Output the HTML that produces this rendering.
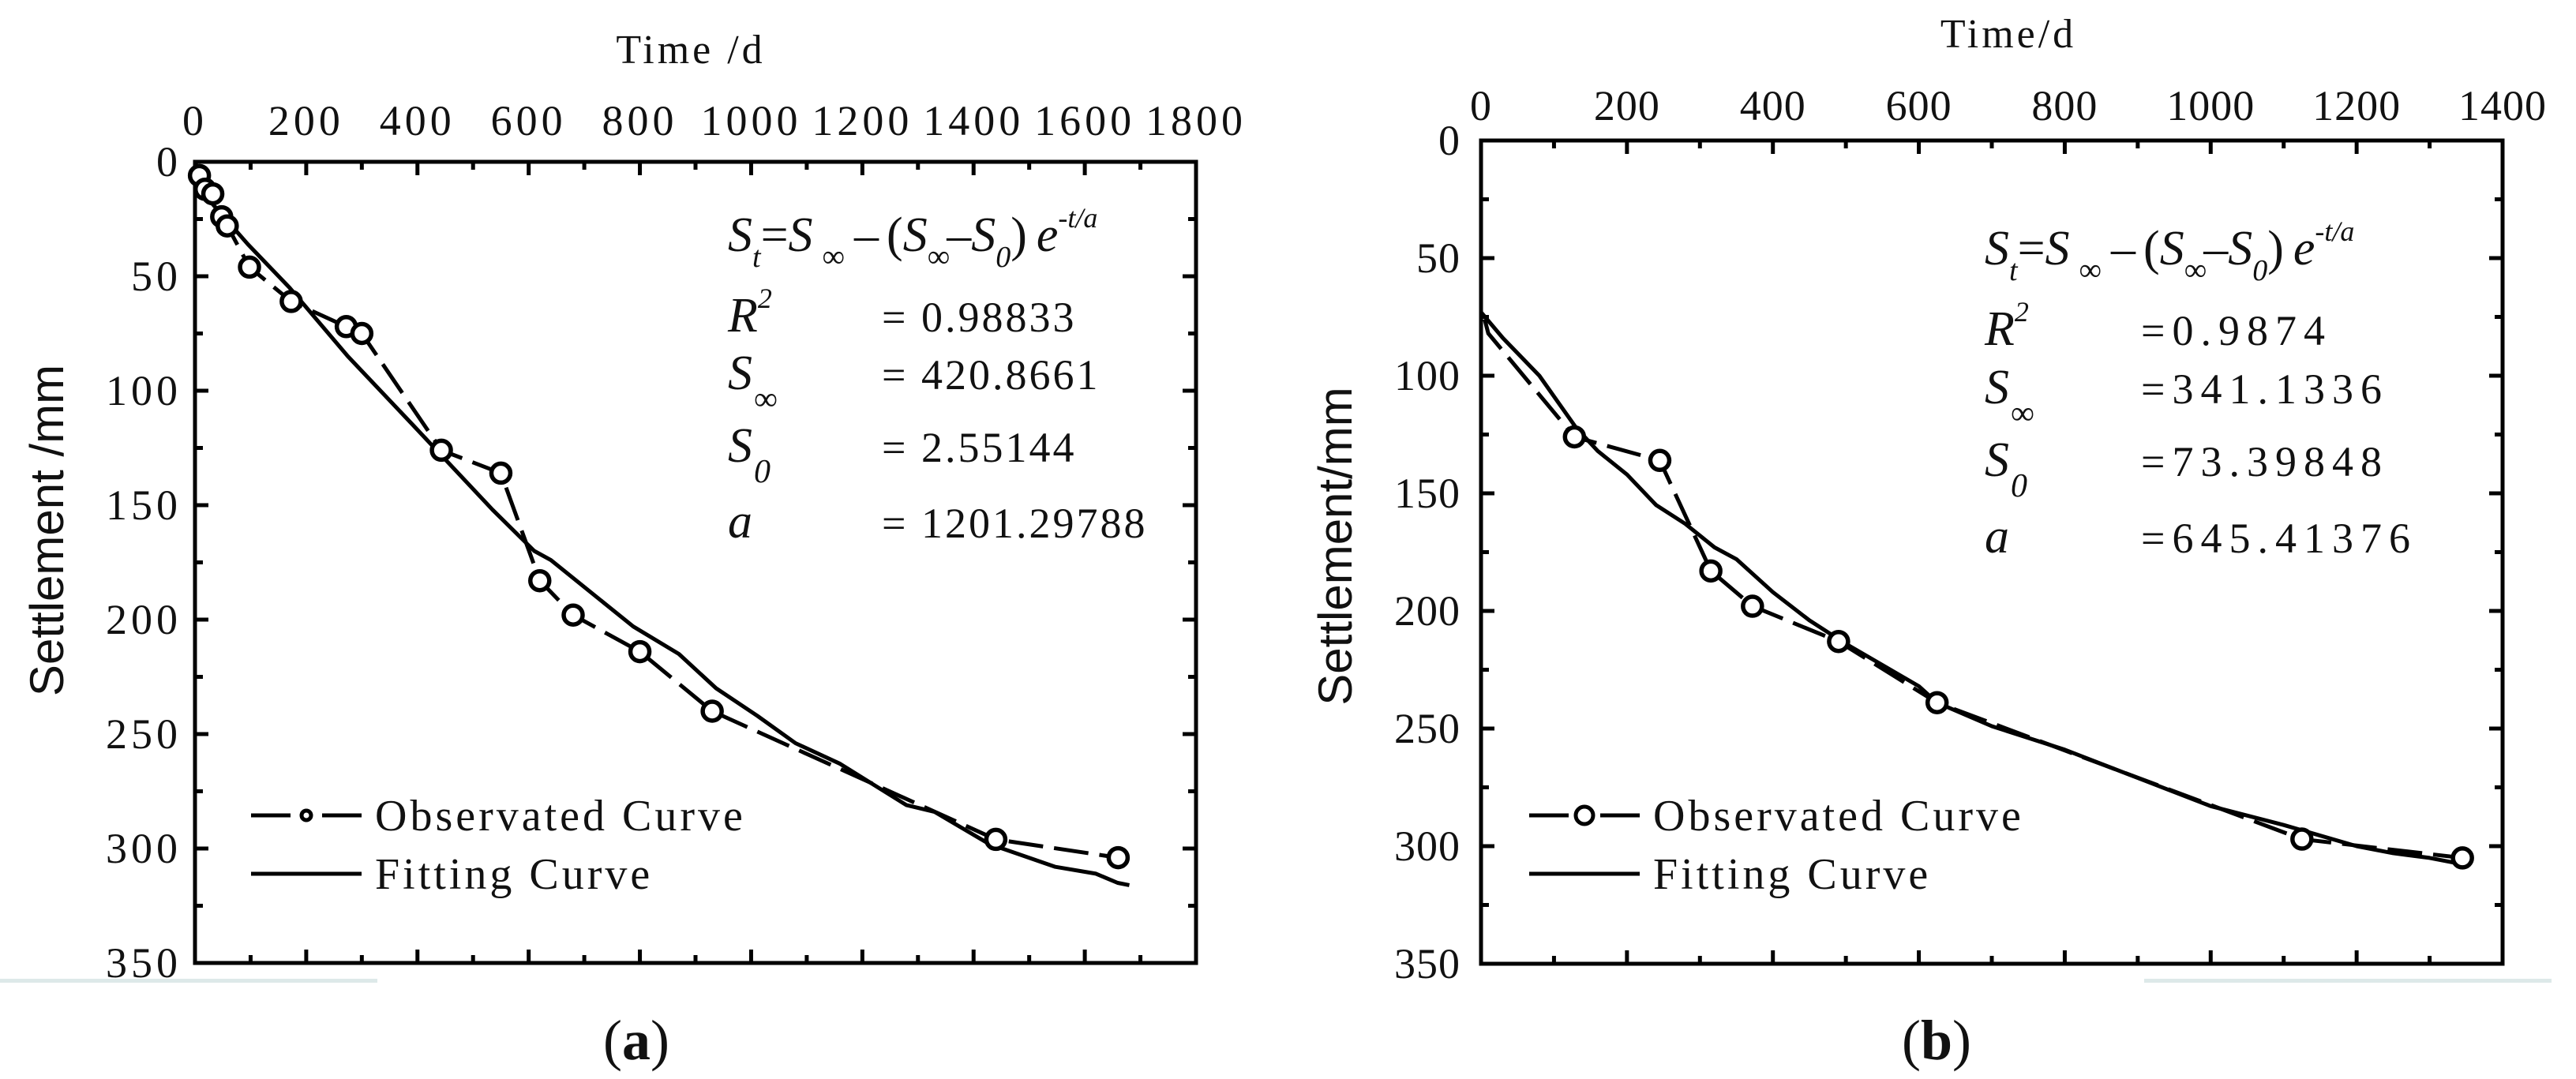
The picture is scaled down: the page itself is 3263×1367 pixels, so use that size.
<!DOCTYPE html>
<html><head><meta charset="utf-8"><style>
html,body{margin:0;padding:0;background:#fff;}
svg{display:block;}
text{font-family:"Liberation Serif",serif;fill:#111;}
</style></head><body>
<svg id="fig" width="3263" height="1367" viewBox="0 0 3263 1367" xmlns="http://www.w3.org/2000/svg">
<rect x="0" y="1240" width="478" height="5" fill="#dde9e9"/>
<rect x="2716" y="1240" width="516" height="5" fill="#dde9e9"/>
</svg>
<script>
// Panel (a) data
const aObsT = [8, 18, 32, 48, 58, 98, 173, 272, 300, 443, 550, 620, 680, 800, 930, 1440, 1660];
const aObsS = [6, 12, 14, 24, 28, 46, 61, 72, 75, 126, 136, 183, 198, 214, 240, 296, 304];
const aFitT = [0, 30, 95, 170, 275, 392, 535, 610, 640, 788, 870, 937, 1011, 1080, 1160, 1279, 1330, 1428, 1547, 1620, 1659, 1680];
const aFitS = [0, 18, 36, 55, 85, 115, 152, 170, 174, 203, 215, 230, 242, 254, 263, 281, 284, 298, 308, 311, 315, 316];
const aXTicks = [0, 200, 400, 600, 800, 1000, 1200, 1400, 1600, 1800];
const aYTicks = [0, 50, 100, 150, 200, 250, 300, 350];
// Panel (b) data
const bObsT = [128, 245, 315, 372, 490, 625, 1125, 1345];
const bObsS = [126, 136, 183, 198, 213, 239, 297, 305];
const bObsStartT = [5, 10];
const bObsStartS = [76, 82];
const bFitT = [0, 30, 80, 130, 160, 200, 240, 280, 320, 350, 400, 450, 500, 550, 600, 625, 700, 800, 850, 900, 1000, 1100, 1200, 1250, 1300, 1350];
const bFitS = [73, 84, 100, 122, 132, 142, 155, 163, 173, 178, 192, 204, 214, 223, 232, 239, 249, 259, 265, 271, 283, 291, 300, 303, 305, 308];
const bXTicks = [0, 200, 400, 600, 800, 1000, 1200, 1400];
const bYTicks = [0, 50, 100, 150, 200, 250, 300, 350];

const NS = "http://www.w3.org/2000/svg";
const svg = document.getElementById('fig');
function mk(tag, attrs, parent) {
  const e = document.createElementNS(NS, tag);
  for (const k in attrs) e.setAttribute(k, attrs[k]);
  (parent || svg).appendChild(e);
  return e;
}

function panel(p) {
  const g = mk('g', {});
  
  
  const sx = v => p.x0 + (v - p.xmin) / (p.xmax - p.xmin) * (p.x1 - p.x0);
  const sy = v => p.y0 + (v - p.ymin) / (p.ymax - p.ymin) * (p.y1 - p.y0);

  const xt = p.xTicks;
  for (let i = 0; i < xt.length; i++) {
    const X = sx(xt[i]);
    if (i > 0 && i < xt.length - 1) {
      const t1 = mk('line', {x1: X, x2: X, y1: p.y0, y2: p.y0 + 17, stroke: '#000', 'stroke-width': 5}, g);
      
      
      const t2 = mk('line', {x1: X, x2: X, y1: p.y1, y2: p.y1 - 17, stroke: '#000', 'stroke-width': 5}, g);
      
      
    }
    if (i < xt.length - 1) {
      const M = sx((xt[i] + xt[i + 1]) / 2);
      const m1 = mk('line', {x1: M, x2: M, y1: p.y0, y2: p.y0 + 10, stroke: '#000', 'stroke-width': 5}, g);
      
      
      const m2 = mk('line', {x1: M, x2: M, y1: p.y1, y2: p.y1 - 10, stroke: '#000', 'stroke-width': 5}, g);
      
      
    }
    const tl = mk('text', {x: X, y: p.xLabelY, 'text-anchor': 'middle', 'font-size': 54, 'letter-spacing': p.ls}, g);
    tl.textContent = xt[i];
    
    
  }
  const yt = p.yTicks;
  for (let i = 0; i < yt.length; i++) {
    const Y = sy(yt[i]);
    if (i > 0 && i < yt.length - 1) {
      const t1 = mk('line', {x1: p.x0, x2: p.x0 + 17, y1: Y, y2: Y, stroke: '#000', 'stroke-width': 5}, g);
      
      
      const t2 = mk('line', {x1: p.x1, x2: p.x1 - 17, y1: Y, y2: Y, stroke: '#000', 'stroke-width': 5}, g);
      
      
    }
    if (i < yt.length - 1) {
      const M = sy((yt[i] + yt[i + 1]) / 2);
      const m1 = mk('line', {x1: p.x0, x2: p.x0 + 10, y1: M, y2: M, stroke: '#000', 'stroke-width': 5}, g);
      
      
      const m2 = mk('line', {x1: p.x1, x2: p.x1 - 10, y1: M, y2: M, stroke: '#000', 'stroke-width': 5}, g);
      
      
    }
    const tl = mk('text', {x: p.yLabelX, y: Y + 18, 'text-anchor': 'end', 'font-size': 54, 'letter-spacing': p.ls}, g);
    tl.textContent = yt[i];
    
    
  }
  const fr = mk('rect', {x: p.x0, y: p.y0, width: p.x1 - p.x0, height: p.y1 - p.y0, fill: 'none', stroke: '#000', 'stroke-width': 5}, g);
  
  

  const xtit = mk('text', {x: p.xTitleX, y: p.xTitleY, 'text-anchor': 'middle', 'font-size': 52, 'letter-spacing': 4}, g);
  xtit.textContent = p.xTitle;
  
  
  const ytit = mk('text', {x: 0, y: 0, 'text-anchor': 'middle', 'font-size': 60, transform: `translate(${p.yTitleX},${p.yTitleY}) rotate(-90)`, style: 'font-family:"Liberation Sans",sans-serif'}, g);
  ytit.textContent = p.yTitle;
  
  

  let d = '';
  for (let i = 0; i < p.fitT.length; i++) d += (i ? 'L' : 'M') + sx(p.fitT[i]).toFixed(1) + ',' + sy(p.fitS[i]).toFixed(1);
  const fit = mk('path', {d: d, fill: 'none', stroke: '#000', 'stroke-width': 5, 'stroke-linejoin': 'round'}, g);
  
  

  const oT = (p.startT || []).concat(p.obsT), oS = (p.startS || []).concat(p.obsS);
  let d2 = '';
  for (let i = 0; i < oT.length; i++) d2 += (i ? 'L' : 'M') + sx(oT[i]).toFixed(1) + ',' + sy(oS[i]).toFixed(1);
  const obs = mk('path', {d: d2, fill: 'none', stroke: '#000', 'stroke-width': 5, 'stroke-dasharray': '44 14'}, g);
  
  
  for (let i = 0; i < p.obsT.length; i++) {
    const c = mk('circle', {cx: sx(p.obsT[i]), cy: sy(p.obsS[i]), r: 12, fill: '#fff', stroke: '#000', 'stroke-width': 5.5}, g);
    
    
  }

  const lg = mk('g', {}, g);
  
  
  const l1a = mk('line', {x1: p.legX, x2: p.legX + 50, y1: 1033, y2: 1033, stroke: '#000', 'stroke-width': 5}, lg);
  
  
  const l1b = mk('line', {x1: p.legX + 90, x2: p.legX + 140, y1: 1033, y2: 1033, stroke: '#000', 'stroke-width': 5}, lg);
  
  
  const lc = mk('circle', {cx: p.legX + 70, cy: 1033, r: p.legR, fill: '#fff', stroke: '#000', 'stroke-width': 5}, lg);
  
  
  const t1 = mk('text', {x: p.legX + 157, y: 1052, 'font-size': 56, 'letter-spacing': 4}, lg);
  t1.textContent = 'Observated Curve';
  
  
  const l2 = mk('line', {x1: p.legX, x2: p.legX + 140, y1: 1107, y2: 1107, stroke: '#000', 'stroke-width': 5}, lg);
  
  
  const t2 = mk('text', {x: p.legX + 157, y: 1126, 'font-size': 56, 'letter-spacing': 4}, lg);
  t2.textContent = 'Fitting Curve';
  
  

  const fb = mk('g', {}, g);
  
  
  const fx = p.fX, B = p.fBase;
  const eq = mk('text', {x: fx, y: B[0], 'font-size': 62, 'font-style': 'italic'}, fb);
  eq.innerHTML = '<tspan>S</tspan><tspan dy="20" font-size="38">t</tspan><tspan dy="-20" dx="0" font-style="normal">=</tspan><tspan>S</tspan><tspan dx="12" dy="20" font-size="40" font-style="normal">∞</tspan><tspan dy="-20" dx="12" font-style="normal">–</tspan><tspan dx="10" font-style="normal">(</tspan><tspan>S</tspan><tspan dy="20" font-size="40" font-style="normal">∞</tspan><tspan dy="-20" dx="-4" font-style="normal">–</tspan><tspan>S</tspan><tspan dy="20" font-size="38">0</tspan><tspan dy="-20" font-style="normal">)</tspan><tspan dx="12">e</tspan><tspan dy="-30" font-size="36">-t/a</tspan>';
  
  
  const names = [['R', '2', 'sup'], ['S', '∞', 'sub'], ['S', '0', 'sub'], ['a', '', '']];
  for (let i = 0; i < 4; i++) {
    const n = mk('text', {x: fx, y: B[i + 1], 'font-size': 62, 'font-style': 'italic'}, fb);
    const [a, s, k] = names[i];
    n.innerHTML = '<tspan>' + a + '</tspan>' + (k === 'sup' ? '<tspan dy="-30" font-size="36">' + s + '</tspan>' : k === 'sub' ? '<tspan dx="2" dy="26" font-size="42" font-style="' + (s === '∞' ? 'normal' : 'italic') + '">' + s + '</tspan>' : '');
    
    
    const v = mk('text', {x: p.eqX, y: B[i + 1], 'font-size': 54, 'letter-spacing': p.vls}, fb);
    v.textContent = p.vals[i];
    
    
  }
  const pl = mk('text', {x: p.lblX, y: 1342, 'text-anchor': 'middle', 'font-size': 72}, g);
  pl.innerHTML = '(<tspan font-weight="bold">' + p.id + '</tspan>)';
  
  
}

panel({id: 'a', x0: 247, x1: 1515, y0: 205, y1: 1220, xmin: 0, xmax: 1800, ymin: 0, ymax: 350,
  xTicks: aXTicks, yTicks: aYTicks, xLabelY: 171, yLabelX: 230, ls: 5,
  xTitle: 'Time  /d', xTitleX: 875, xTitleY: 80, yTitle: 'Settlement  /mm', yTitleX: 80, yTitleY: 672,
  fitT: aFitT, fitS: aFitS, obsT: aObsT, obsS: aObsS, legX: 318, legR: 6,
  fX: 922, fBase: [318, 420, 493, 585, 681], eqX: 1117, vals: ['=  0.98833', '=  420.8661', '=  2.55144', '=  1201.29788'], vls: 3, lblX: 806});

panel({id: 'b', x0: 1876, x1: 3170, y0: 178, y1: 1221, xmin: 0, xmax: 1400, ymin: 0, ymax: 350,
  xTicks: bXTicks, yTicks: bYTicks, xLabelY: 152, yLabelX: 1850, ls: 1,
  xTitle: 'Time/d', xTitleX: 2544, xTitleY: 60, yTitle: 'Settlement/mm', yTitleX: 1712, yTitleY: 692,
  fitT: bFitT, fitS: bFitS, obsT: bObsT, obsS: bObsS, startT: bObsStartT, startS: bObsStartS, legX: 1937, legR: 11,
  fX: 2514, fBase: [335, 437, 511, 603, 700], eqX: 2712, vals: ['=0.9874', '=341.1336', '=73.39848', '=645.41376'], vls: 9, lblX: 2453});
</script>
</body></html>
